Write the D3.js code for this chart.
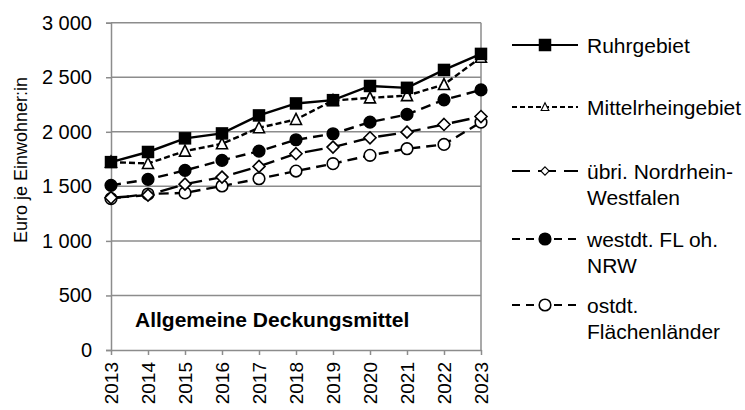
<!DOCTYPE html>
<html><head><meta charset="utf-8">
<script src="https://cdn.jsdelivr.net/npm/d3@7"></script>
<style>body{margin:0;background:#fff}svg{display:block;font-family:"Liberation Sans",Arial,sans-serif}</style>
</head><body><svg id="c" width="745" height="410"></svg>
<script>
const years = [2013,2014,2015,2016,2017,2018,2019,2020,2021,2022,2023];
const ruhr = [1722,1815,1940,1985,2150,2260,2290,2420,2403,2567,2714];
const mittel = [1722,1710,1823,1890,2037,2113,2287,2311,2332,2433,2683];
const nrw = [1395,1420,1520,1585,1683,1799,1860,1945,1997,2067,2140];
const west = [1509,1564,1646,1738,1823,1927,1982,2088,2159,2293,2384];
const ost = [1387,1430,1440,1503,1570,1640,1708,1784,1845,1884,2088];
const yTicks = [0,500,1000,1500,2000,2500,3000];
const seriesNames = [["Ruhrgebiet"],["Mittelrheingebiet"],["übri. Nordrhein-","Westfalen"],["westdt. FL oh.","NRW"],["ostdt.","Flächenländer"]];

const series = [
  {v:ruhr, dash:null, legDash:null, marker:"square", fill:"#000", legY:45},
  {v:mittel, dash:"6,3", legDash:"5,3", marker:"triangle", fill:"#fff", legY:107},
  {v:nrw, dash:"18,7", legDash:"18,8", marker:"diamond", fill:"#fff", legY:171},
  {v:west, dash:"10,6", legDash:"8,6", marker:"circle", fill:"#000", legY:239},
  {v:ost, dash:"10,6", legDash:"8,6", marker:"circle", fill:"#fff", legY:305}
];

const svg = d3.select("#c");
const L=111, R=481, T=22.7, B=350;
const x = d3.scalePoint().domain(years).range([L,R]);
const y = d3.scaleLinear().domain([0,3000]).range([B,T]);
const grey="#8c8c8c";
const FF="Liberation Sans, Arial, sans-serif";

svg.append("g").selectAll("line").data(yTicks.filter(d=>d>0)).join("line")
  .attr("x1",L).attr("x2",R).attr("y1",d=>y(d)).attr("y2",d=>y(d))
  .attr("stroke",grey).attr("stroke-width",1.5);
svg.append("line").attr("x1",R).attr("x2",R).attr("y1",T).attr("y2",B).attr("stroke",grey).attr("stroke-width",1.5);

const fmt = d => d3.format(",")(d).replace(/,/g," ");
const ya = svg.append("g").attr("transform",`translate(${L},0)`)
  .call(d3.axisLeft(y).tickValues(yTicks).tickFormat(fmt).tickSize(5).tickPadding(14));
ya.select(".domain").attr("stroke",grey).attr("stroke-width",1.5);
ya.selectAll(".tick line").attr("stroke",grey).attr("stroke-width",1.5);
ya.selectAll("text").attr("font-size",20).attr("fill","#000").attr("font-family",FF);

const xa = svg.append("g").attr("transform",`translate(0,${B})`)
  .call(d3.axisBottom(x).tickSize(5).tickSizeOuter(0));
xa.select(".domain").attr("stroke",grey).attr("stroke-width",1.5);
xa.selectAll(".tick line").attr("stroke",grey).attr("stroke-width",1.5);
xa.selectAll("text").attr("font-size",19).attr("fill","#000").attr("font-family",FF)
  .attr("transform","rotate(-90)").attr("text-anchor","end").attr("dy","0.36em").attr("x",-12).attr("y",0);

svg.append("text").attr("transform","translate(27,160) rotate(-90)").attr("text-anchor","middle")
  .attr("font-size",18).text("Euro je Einwohner:in");

svg.append("text").attr("x",135).attr("y",327).attr("font-size",21).attr("font-weight","bold")
  .text("Allgemeine Deckungsmittel");

function marker(g, type, fill, cx, cy){
  if(type==="square") g.append("rect").attr("x",cx-5.5).attr("y",cy-5.5).attr("width",11).attr("height",11).attr("fill",fill).attr("stroke","#000").attr("stroke-width",1.5);
  else if(type==="circle") g.append("circle").attr("cx",cx).attr("cy",cy).attr("r",5.8).attr("fill",fill).attr("stroke","#000").attr("stroke-width",1.6);
  else if(type==="triangle") g.append("path").attr("d",`M${cx},${cy-6}L${cx+5.5},${cy+5}L${cx-5.5},${cy+5}Z`).attr("fill",fill).attr("stroke","#000").attr("stroke-width",1.6);
  else if(type==="diamond") g.append("path").attr("d",`M${cx},${cy-6}L${cx+6},${cy}L${cx},${cy+6}L${cx-6},${cy}Z`).attr("fill",fill).attr("stroke","#000").attr("stroke-width",1.6);
}

const line = d3.line().x((d,i)=>x(years[i])).y(d=>y(d));
[...series].reverse().forEach(s=>{
  const g = svg.append("g");
  g.append("path").attr("d",line(s.v)).attr("fill","none").attr("stroke","#000").attr("stroke-width",2.4)
    .attr("stroke-dasharray",s.dash);
  s.v.forEach((d,i)=>marker(g,s.marker,s.fill,x(years[i]),y(d)));
});

series.forEach((s,i)=>{
  const g = svg.append("g");
  g.append("line").attr("x1",512).attr("x2",578).attr("y1",s.legY).attr("y2",s.legY)
    .attr("stroke","#000").attr("stroke-width",2.2).attr("stroke-dasharray",s.legDash);
  const k = (s.marker==="triangle"||s.marker==="diamond")?0.7:1;
  const mg = g.append("g").attr("transform",`translate(545,${s.legY}) scale(${k}) translate(-545,${-s.legY})`);
  marker(mg,s.marker,s.fill,545,s.legY);
  seriesNames[i].forEach((t,j)=>{
    g.append("text").attr("x",587).attr("y",s.legY+7.5+j*26).attr("font-size",21).text(t);
  });
});
</script></body></html>
